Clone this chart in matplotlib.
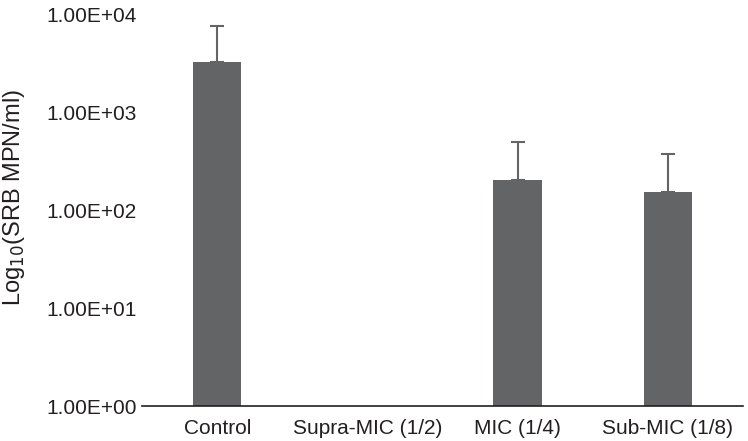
import numpy as np
import matplotlib.pyplot as plt

plt.rcParams["font.family"] = ["Liberation Sans", "DejaVu Sans"]

categories = ["Control", "Supra-MIC (1/2)", "MIC (1/4)", "Sub-MIC (1/8)"]
mpn = [3250, np.nan, 205, 152]
err_upper = [4300, np.nan, 290, 220]

BAR = "#636466"
TXT = "#231f20"

fig = plt.figure(figsize=(7.48, 4.41), dpi=100)
ax = fig.add_axes([0.190, 0.079, 0.803, 0.889])

x = np.arange(len(categories))
ax.bar(x, mpn, width=0.32, color=BAR, zorder=2)
ax.errorbar(x, mpn, yerr=[np.zeros(len(x)), err_upper], fmt="none",
            ecolor=BAR, elinewidth=1.5, capsize=5, capthick=1.5, zorder=3)

ax.set_yscale("log")
ax.set_ylim(1, 1e4)
ax.set_xlim(-0.5, len(categories) - 0.5)
ax.set_yticks([1, 10, 100, 1000, 10000])
ax.set_yticklabels(["1.00E+00", "1.00E+01", "1.00E+02", "1.00E+03", "1.00E+04"])
ax.minorticks_off()
ax.set_xticks(x)
ax.set_xticklabels(categories)
ax.tick_params(axis="both", length=0, labelsize=15, colors=TXT)
ax.tick_params(axis="y", pad=4)
ax.tick_params(axis="x", pad=9)

for side in ["left", "right", "top"]:
    ax.spines[side].set_visible(False)
ax.spines["bottom"].set_color(TXT)
ax.spines["bottom"].set_linewidth(1.2)

# y label placed by hand, a bit above the axes centre like the original
fig.text(14 / 748, 1 - 198 / 441, "Log$_{10}$(SRB MPN/ml)", rotation=90,
         ha="center", va="center", fontsize=17, color=TXT)

fig.savefig("out.png", dpi=100)
